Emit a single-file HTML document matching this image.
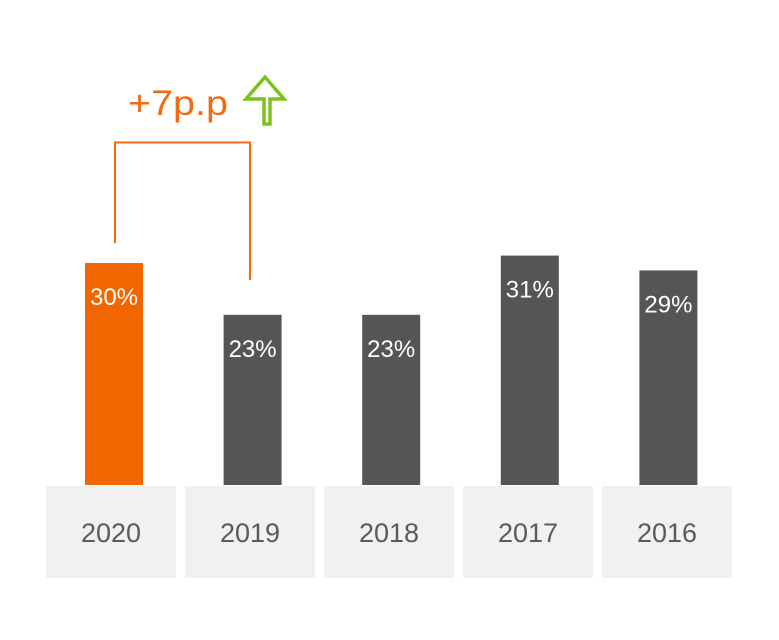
<!DOCTYPE html>
<html><head><meta charset="utf-8"><style>
body{margin:0;background:#fff;width:779px;height:635px;overflow:hidden;font-family:"Liberation Sans",sans-serif}
</style></head><body>
<svg width="779" height="635">
<g id="bars"></g>
<path d="M115 243 V142.5 H250 V280" fill="none" stroke="#f26a11" stroke-width="2"/>
<text x="128" y="115" font-size="35" fill="#f26a11" textLength="100" lengthAdjust="spacingAndGlyphs">+7p.p</text>
<path d="M264 124 V99 H246 L265 77 L284 99 H270 V124 Z" fill="none" stroke="#7cc21e" stroke-width="3.5" stroke-linejoin="miter"/>
</svg>
<script>
const categories=["2020","2019","2018","2017","2016"];
const values=[30,23,23,31,29];
const valueLabels=["30%","23%","23%","31%","29%"];
const ns="http://www.w3.org/2000/svg";
const g=document.getElementById("bars");
const base=485, pxPer=7.4;
function yScale(v){return base-v*pxPer;}
function xBand(i){return 46+i*139;}
categories.forEach((c,i)=>{
  const x0=xBand(i);
  const box=document.createElementNS(ns,"rect");
  box.setAttribute("x",x0);box.setAttribute("y",486);box.setAttribute("width",130);box.setAttribute("height",92);box.setAttribute("fill","#f1f1f1");
  
  
  g.appendChild(box);
  const t=document.createElementNS(ns,"text");
  t.setAttribute("x",x0+65);t.setAttribute("y",542);t.setAttribute("text-anchor","middle");t.setAttribute("font-size","27");t.setAttribute("fill","#5a5a5a");t.textContent=c;
  
  
  g.appendChild(t);
  const y=yScale(values[i]);
  const b=document.createElementNS(ns,"rect");
  b.setAttribute("x",x0+39-i*0.4);b.setAttribute("y",y);b.setAttribute("width",58);b.setAttribute("height",base-y);b.setAttribute("fill",i===0?"#f26600":"#555555");
  
  
  g.appendChild(b);
  const v=document.createElementNS(ns,"text");
  v.setAttribute("x",x0+68-i*0.4);v.setAttribute("y",y+42);v.setAttribute("text-anchor","middle");v.setAttribute("font-size","24");v.setAttribute("fill","#ffffff");v.textContent=valueLabels[i];
  
  
  g.appendChild(v);
});
</script>
</body></html>
